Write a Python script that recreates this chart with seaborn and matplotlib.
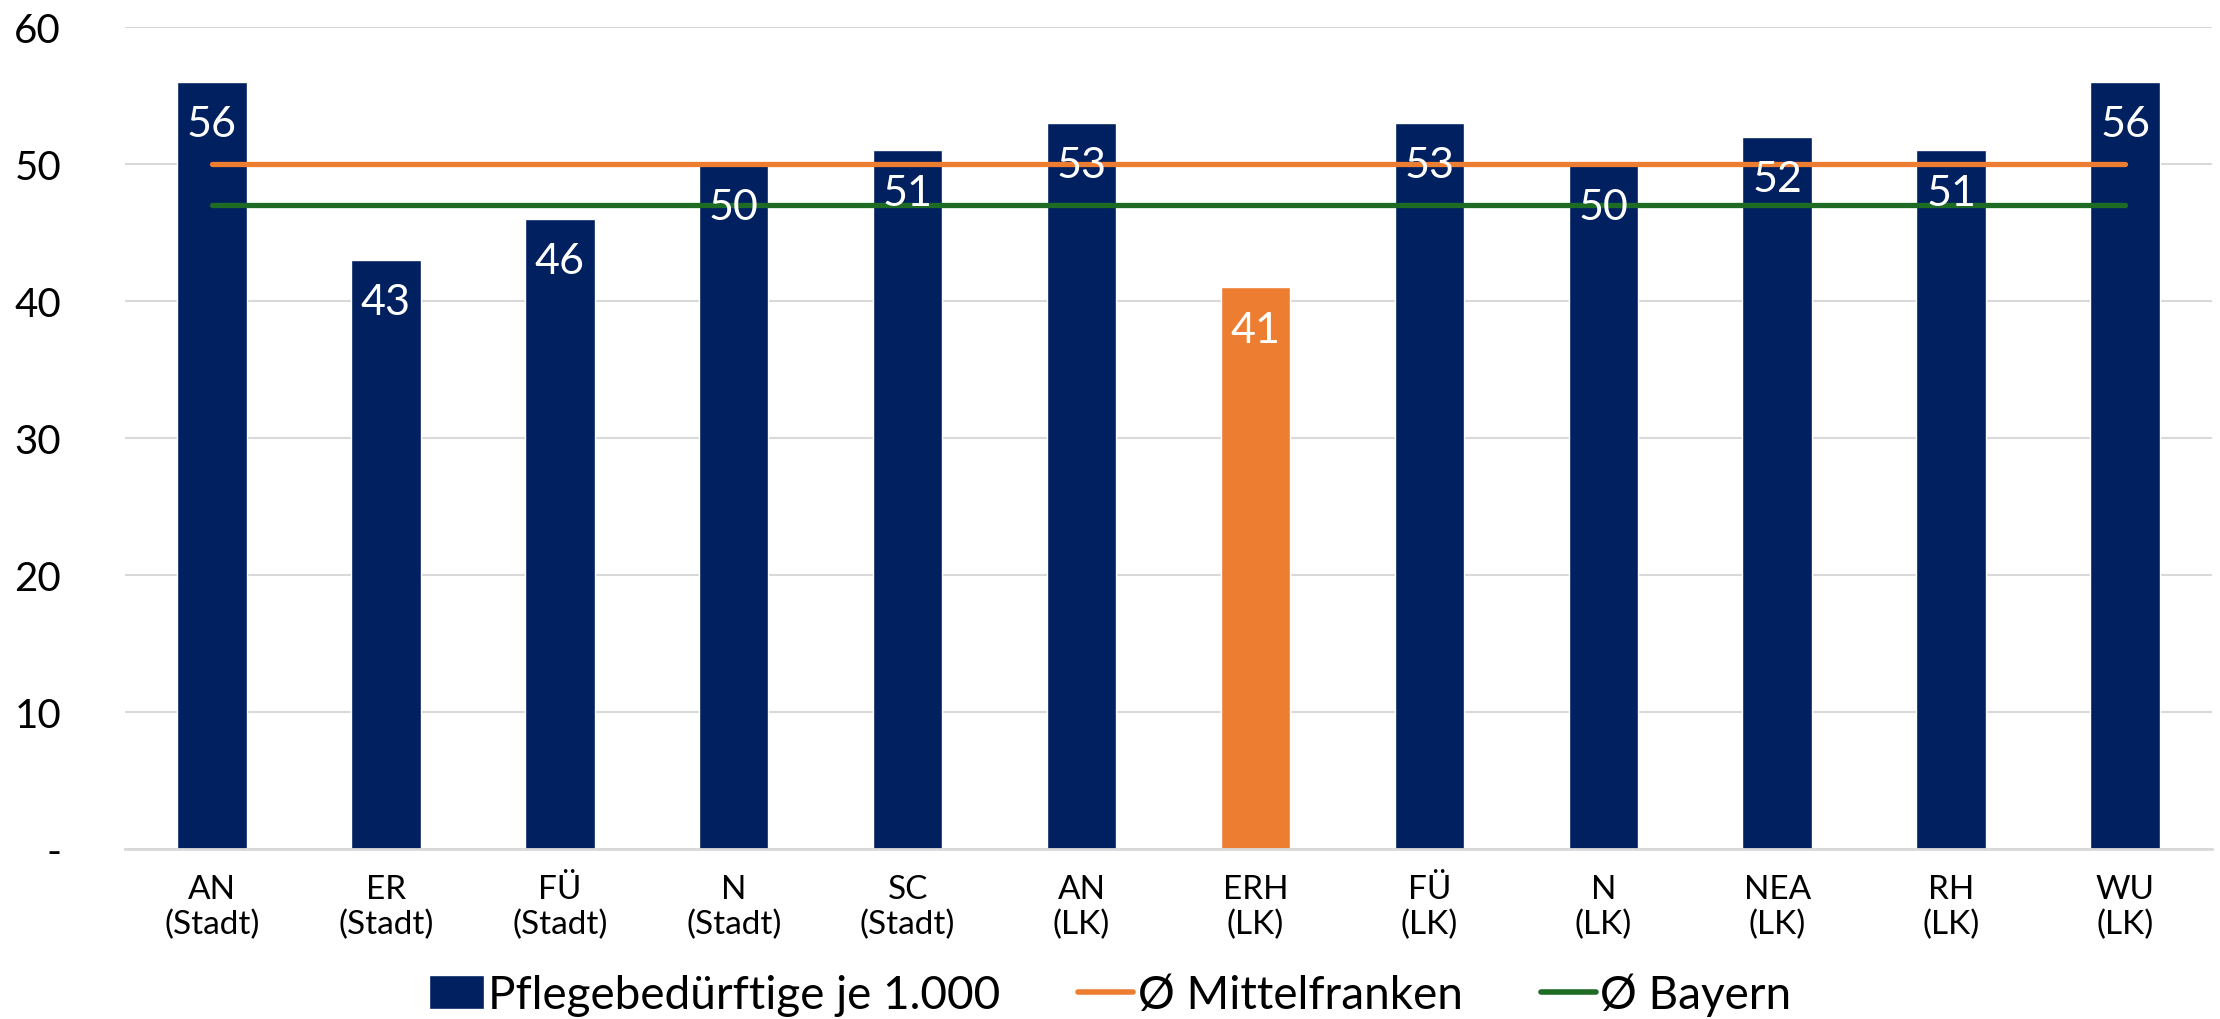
import matplotlib
matplotlib.use("Agg")
import matplotlib.pyplot as plt
import seaborn as sns
from matplotlib.patches import Patch
from matplotlib.lines import Line2D

# Data
regions = ["AN\n(Stadt)", "ER\n(Stadt)", "FÜ\n(Stadt)", "N\n(Stadt)", "SC\n(Stadt)",
           "AN\n(LK)", "ERH\n(LK)", "FÜ\n(LK)", "N\n(LK)", "NEA\n(LK)", "RH\n(LK)", "WU\n(LK)"]
pflege_je_1000 = [56, 43, 46, 50, 51, 53, 41, 53, 50, 52, 51, 56]
avg_mittelfranken = 50
avg_bayern = 47
highlight = "ERH\n(LK)"

navy = "#002060"
orange = "#ED7D31"
green = "#1E6B24"

sns.set_style("white")
plt.rcParams['font.family'] = ['Lato', 'DejaVu Sans']
plt.rcParams['text.color'] = 'black'
plt.rcParams['xtick.color'] = 'black'
plt.rcParams['ytick.color'] = 'black'

fig = plt.figure(figsize=(22.2, 10.2), dpi=100)
ax = fig.add_axes([0.0563, 0.1667, 0.9401, 0.8058])

bar_colors = [orange if r == highlight else navy for r in regions]
sns.barplot(x=regions, y=pflege_je_1000, hue=regions, palette=bar_colors,
            legend=False, width=0.4, saturation=1, ax=ax)

xs = list(range(len(regions)))
ax.plot(xs, [avg_mittelfranken] * len(xs), color=orange, lw=3.8,
        solid_capstyle="round", zorder=4)
ax.plot(xs, [avg_bayern] * len(xs), color=green, lw=3.8,
        solid_capstyle="round", zorder=4)

# value labels inside bar tops
for x, v in zip(xs, pflege_je_1000):
    ax.text(x, v - 3.1, str(v), ha="center", va="center", color="white",
            fontsize=31, zorder=5)

ax.set_ylim(0, 60)
ax.set_xlim(-0.5, len(regions) - 0.5)
ax.set_yticks(range(0, 61, 10))
ax.set_yticklabels(["-"] + [str(t) for t in range(10, 61, 10)])
ax.yaxis.grid(True, color="#D9D9D9", lw=1.5)
ax.set_axisbelow(True)
for s in ["top", "right", "left"]:
    ax.spines[s].set_visible(False)
ax.spines["bottom"].set_color("#D9D9D9")
ax.spines["bottom"].set_linewidth(2)
ax.tick_params(axis="y", length=0, labelsize=29, pad=46, labelcolor="black")
ax.tick_params(axis="x", length=0, labelsize=24, pad=18, labelcolor="black")
ax.set_xlabel("")
ax.set_ylabel("")

handles = [Patch(facecolor=navy, label="Pflegebedürftige je 1.000"),
           Line2D([0], [0], color=orange, lw=4, solid_capstyle="round", label="Ø Mittelfranken"),
           Line2D([0], [0], color=green, lw=4, solid_capstyle="round", label="Ø Bayern")]
fig.legend(handles=handles, loc="center", bbox_to_anchor=(0.5, 0.024), ncol=3,
           frameon=False, fontsize=33, handlelength=1.2, handleheight=0.75,
           handletextpad=0.1, columnspacing=1.7, labelcolor="black")

fig.savefig("out.png", dpi=100)
